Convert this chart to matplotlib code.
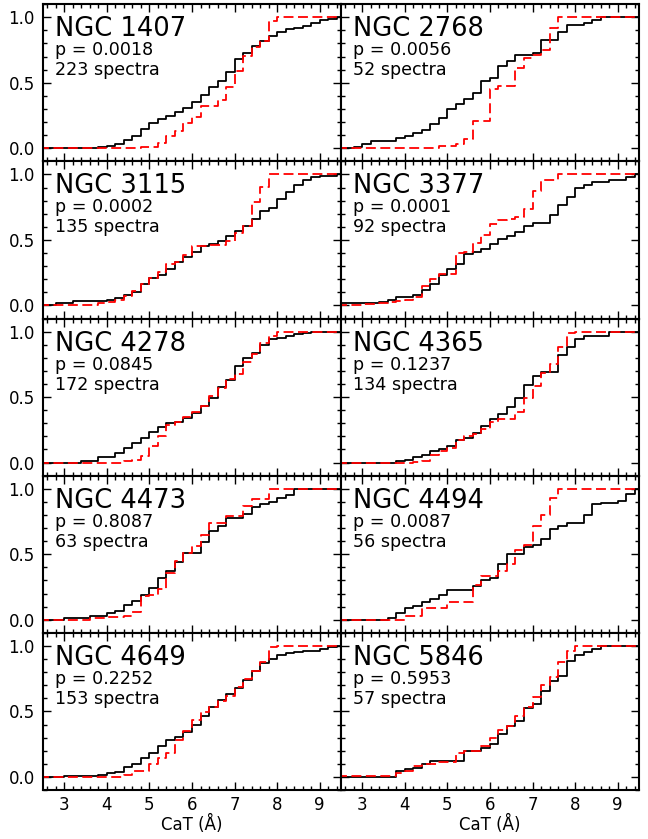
import numpy as np
import matplotlib
matplotlib.use('Agg')
import matplotlib.pyplot as plt
from matplotlib.ticker import MultipleLocator

# CaT bin edges (Å); each value below is the cumulative fraction from that edge on
cat_edges = [2.4, 2.6, 2.8, 3.0, 3.2, 3.4, 3.6, 3.8, 4.0, 4.2,
             4.4, 4.6, 4.8, 5.0, 5.2, 5.4, 5.6, 5.8, 6.0, 6.2,
             6.4, 6.6, 6.8, 7.0, 7.2, 7.4, 7.6, 7.8, 8.0, 8.2,
             8.4, 8.6, 8.8, 9.0, 9.2, 9.4]

galaxies = ['NGC 1407', 'NGC 2768', 'NGC 3115', 'NGC 3377', 'NGC 4278',
            'NGC 4365', 'NGC 4473', 'NGC 4494', 'NGC 4649', 'NGC 5846']
p_values = ['0.0018', '0.0056', '0.0002', '0.0001', '0.0845',
            '0.1237', '0.8087', '0.0087', '0.2252', '0.5953']
n_spectra = [223, 52, 135, 92, 172, 134, 63, 56, 153, 57]

# black: all spectra, red: second sample
n1407_all = [0, 0, 0, 0, 0, 0, 0.005, 0.01, 0.02, 0.03,
             0.06, 0.09, 0.145, 0.19, 0.22, 0.25, 0.28, 0.31, 0.355, 0.405,
             0.465, 0.51, 0.585, 0.68, 0.73, 0.78, 0.82, 0.86, 0.885, 0.91,
             0.92, 0.935, 0.96, 0.98, 0.99, 1.0]
n1407_red = [0, 0, 0, 0, 0, 0, 0, 0, 0, 0,
             0, 0, 0.01, 0.01, 0.04, 0.095, 0.13, 0.19, 0.235, 0.325,
             0.325, 0.37, 0.47, 0.59, 0.705, 0.77, 0.82, 0.975, 1, 1,
             1, 1, 1, 1, 1, 1]

n2768_all = [0, 0, 0.013, 0.03, 0.058, 0.058, 0.058, 0.077, 0.096, 0.115,
             0.136, 0.187, 0.228, 0.30, 0.34, 0.378, 0.42, 0.514, 0.535, 0.63,
             0.667, 0.71, 0.71, 0.73, 0.825, 0.825, 0.885, 0.94, 0.94, 0.96,
             0.98, 1, 1, 1, 1, 1]
n2768_red = [0, 0, 0, 0, 0, 0, 0, 0, 0, 0,
             0, 0, 0.015, 0.015, 0.03, 0.074, 0.207, 0.207, 0.45, 0.476,
             0.476, 0.616, 0.69, 0.71, 0.75, 0.92, 1, 1, 1, 1,
             1, 1, 1, 1, 1, 1]

n3115_all = [0, 0, 0.015, 0.015, 0.035, 0.035, 0.035, 0.035, 0.045, 0.055,
             0.077, 0.1, 0.165, 0.21, 0.23, 0.28, 0.33, 0.37, 0.41, 0.455,
             0.47, 0.49, 0.53, 0.566, 0.61, 0.66, 0.72, 0.745, 0.815, 0.867,
             0.92, 0.957, 0.98, 0.99, 0.99, 1.0]
n3115_red = [0, 0, 0, 0, 0, 0, 0, 0.02, 0.025, 0.04,
             0.075, 0.11, 0.165, 0.21, 0.255, 0.32, 0.33, 0.385, 0.45, 0.455,
             0.46, 0.46, 0.49, 0.55, 0.61, 0.79, 0.905, 1, 1, 1,
             1, 1, 1, 1, 1, 1]

n3377_all = [0.02, 0.02, 0.02, 0.02, 0.02, 0.028, 0.04, 0.064, 0.064, 0.077,
             0.12, 0.165, 0.235, 0.28, 0.32, 0.39, 0.41, 0.43, 0.47, 0.51,
             0.53, 0.56, 0.605, 0.63, 0.63, 0.69, 0.765, 0.83, 0.893, 0.92,
             0.944, 0.944, 0.96, 0.96, 0.98, 1.0]
n3377_red = [0, 0, 0, 0.013, 0.013, 0.02, 0.025, 0.03, 0.045, 0.065,
             0.15, 0.2, 0.24, 0.24, 0.4, 0.41, 0.48, 0.54, 0.625, 0.65,
             0.66, 0.675, 0.74, 0.87, 0.955, 0.955, 1, 1, 1, 1,
             1, 1, 1, 1, 1, 1]

n4278_all = [0, 0, 0, 0, 0, 0.01, 0.01, 0.04, 0.045, 0.075,
             0.11, 0.15, 0.19, 0.23, 0.27, 0.30, 0.31, 0.34, 0.375, 0.435,
             0.49, 0.575, 0.63, 0.74, 0.8, 0.84, 0.9, 0.94, 0.95, 0.965,
             0.98, 0.99, 1, 1, 1, 1]
n4278_red = [0, 0, 0, 0, 0, 0, 0, 0, 0, 0,
             0.01, 0.02, 0.05, 0.13, 0.2, 0.285, 0.31, 0.35, 0.385, 0.435,
             0.51, 0.57, 0.64, 0.68, 0.77, 0.83, 0.91, 0.97, 0.995, 1,
             1, 1, 1, 1, 1, 1]

n4365_all = [0, 0, 0, 0, 0, 0, 0, 0.01, 0.02, 0.04,
             0.06, 0.085, 0.105, 0.125, 0.17, 0.185, 0.225, 0.28, 0.33, 0.37,
             0.425, 0.49, 0.59, 0.66, 0.69, 0.69, 0.825, 0.883, 0.946, 0.967,
             0.97, 0.97, 0.995, 1, 1, 1]
n4365_red = [0, 0, 0, 0, 0, 0, 0, 0, 0, 0.005,
             0.01, 0.055, 0.085, 0.115, 0.175, 0.2, 0.215, 0.26, 0.31, 0.335,
             0.335, 0.385, 0.49, 0.585, 0.685, 0.755, 0.88, 0.99, 1, 1,
             1, 1, 1, 1, 1, 1]

n4473_all = [0, 0, 0, 0.013, 0.013, 0.013, 0.03, 0.03, 0.048, 0.07,
             0.11, 0.145, 0.19, 0.24, 0.317, 0.37, 0.444, 0.508, 0.508, 0.59,
             0.68, 0.715, 0.78, 0.78, 0.81, 0.86, 0.88, 0.90, 0.93, 0.95,
             1, 1, 1, 1, 1, 1]
n4473_red = [0, 0, 0, 0, 0, 0, 0.01, 0.013, 0.02, 0.02,
             0.03, 0.056, 0.18, 0.19, 0.235, 0.36, 0.45, 0.51, 0.565, 0.645,
             0.735, 0.735, 0.795, 0.795, 0.87, 0.92, 0.92, 1, 1, 1,
             1, 1, 1, 1, 1, 1]

n4494_all = [0, 0, 0, 0, 0, 0, 0.013, 0.05, 0.087, 0.107,
             0.138, 0.158, 0.19, 0.227, 0.227, 0.227, 0.26, 0.3, 0.317, 0.426,
             0.5, 0.5, 0.554, 0.57, 0.62, 0.696, 0.716, 0.735, 0.735, 0.80,
             0.88, 0.89, 0.89, 0.91, 0.96, 1.0]
n4494_red = [0, 0, 0, 0, 0, 0, 0, 0, 0.03, 0.03,
             0.087, 0.087, 0.087, 0.138, 0.138, 0.138, 0.265, 0.337, 0.337, 0.375,
             0.426, 0.536, 0.57, 0.714, 0.80, 0.93, 1, 1, 1, 1,
             1, 1, 1, 1, 1, 1]

n4649_all = [0, 0, 0, 0.005, 0.005, 0.005, 0.005, 0.013, 0.033, 0.04,
             0.077, 0.097, 0.148, 0.186, 0.237, 0.283, 0.306, 0.344, 0.398, 0.467,
             0.536, 0.59, 0.633, 0.679, 0.74, 0.806, 0.87, 0.9, 0.934, 0.944,
             0.95, 0.96, 0.965, 0.977, 0.99, 1.0]
n4649_red = [0, 0, 0, 0, 0, 0, 0, 0, 0, 0,
             0.013, 0.046, 0.046, 0.097, 0.143, 0.18, 0.28, 0.352, 0.434, 0.497,
             0.536, 0.58, 0.62, 0.684, 0.747, 0.81, 0.874, 0.995, 1, 1,
             1, 1, 1, 1, 1, 1]

n5846_all = [0, 0, 0, 0, 0, 0, 0, 0.046, 0.064, 0.07,
             0.102, 0.122, 0.122, 0.122, 0.122, 0.194, 0.194, 0.224, 0.25, 0.33,
             0.39, 0.43, 0.525, 0.56, 0.658, 0.735, 0.773, 0.883, 0.934, 0.952,
             0.977, 1, 1, 1, 1, 1]
n5846_red = [0.01, 0.01, 0.01, 0.01, 0.01, 0.01, 0.01, 0.033, 0.046, 0.084,
             0.102, 0.102, 0.11, 0.11, 0.186, 0.194, 0.194, 0.237, 0.3, 0.357,
             0.39, 0.467, 0.536, 0.607, 0.7, 0.765, 0.875, 0.96, 1, 1,
             1, 1, 1, 1, 1, 1]

all_cdfs = [n1407_all, n2768_all, n3115_all, n3377_all, n4278_all,
            n4365_all, n4473_all, n4494_all, n4649_all, n5846_all]
red_cdfs = [n1407_red, n2768_red, n3115_red, n3377_red, n4278_red,
            n4365_red, n4473_red, n4494_red, n4649_red, n5846_red]

plt.rcParams['font.family'] = 'DejaVu Sans'

fig, axes = plt.subplots(5, 2, figsize=(6.48, 8.39), dpi=100, sharex=True, sharey=True)
fig.subplots_adjust(left=0.0664, right=0.986, top=0.995, bottom=0.0584,
                    wspace=0, hspace=0)

x = np.append(cat_edges, 9.6)
for i, ax in enumerate(axes.flat):
    y_all = np.append(all_cdfs[i], all_cdfs[i][-1])
    y_red = np.append(red_cdfs[i], red_cdfs[i][-1])
    ax.step(x, y_all, where='post', color='black', lw=1.3)
    ax.step(x, y_red, where='post', color='red', lw=1.3, linestyle=(0, (5.5, 2.5)))

    ax.text(0.04, 0.796, galaxies[i], transform=ax.transAxes, fontsize=18.5)
    ax.text(0.04, 0.675, 'p = ' + p_values[i], transform=ax.transAxes, fontsize=12.6)
    ax.text(0.04, 0.548, f'{n_spectra[i]} spectra', transform=ax.transAxes, fontsize=12.6)

    ax.set_xlim(2.5, 9.5)
    ax.set_ylim(-0.1, 1.1)
    ax.xaxis.set_major_locator(MultipleLocator(1))
    ax.xaxis.set_minor_locator(MultipleLocator(0.2))
    ax.yaxis.set_major_locator(MultipleLocator(0.5))
    ax.yaxis.set_minor_locator(MultipleLocator(0.1))
    ax.tick_params(which='both', direction='in', top=True, right=True, labelsize=12)
    ax.tick_params(which='major', length=6, width=1)
    ax.tick_params(which='minor', length=3, width=1)
    ax.tick_params(axis='y', which='major', pad=6)
    ax.tick_params(axis='x', which='major', pad=4)
    for s in ax.spines.values():
        s.set_linewidth(1.5)

for ax in axes[:, 1]:
    ax.tick_params(labelleft=False)
for ax in axes[-1, :]:
    ax.set_xlabel('CaT (Å)', fontsize=12, labelpad=1)

fig.savefig('out.png', dpi=100)
